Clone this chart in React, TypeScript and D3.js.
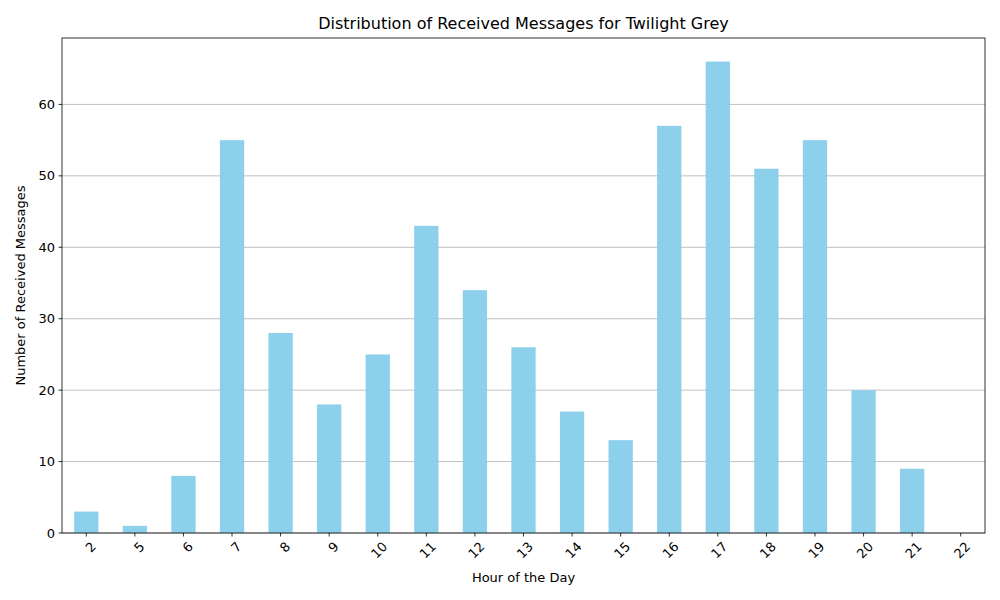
import React from "react";
import * as d3 from "d3";

const hours = ["2","5","6","7","8","9","10","11","12","13","14","15","16","17","18","19","20","21","22"];
const counts = [3,1,8,55,28,18,25,43,34,26,17,13,57,66,51,55,20,9,0];
const yTicks = [0,10,20,30,40,50,60];

export default function App() {
  const W = 1000, H = 600;
  const L = 62, R = 985, T = 38, B = 533;
  const x = d3.scaleBand().domain(hours).range([L, R]).paddingInner(0.5).paddingOuter(0.25);
  const y = d3.scaleLinear().domain([0, 66 * 1.05]).range([B, T]);
  const font = "DejaVu Sans, sans-serif";
  return (
    <svg width={W} height={H} style={{ position: "absolute", left: 0, top: 0 }} fontFamily={font}>
      <rect width={W} height={H} fill="white" />
      {yTicks.map(t => (
        <g key={t}>
          <line x1={L} x2={R} y1={y(t)} y2={y(t)} stroke="#b0b0b0" strokeWidth={0.8} />
          <line x1={L - 3.5} x2={L} y1={y(t)} y2={y(t)} stroke="black" strokeWidth={0.8} />
          <text x={L - 7} y={y(t)} dy="0.35em" textAnchor="end" fontSize={13}>{t}</text>
        </g>
      ))}
      {hours.map((h, i) => (
        <g key={h}>
          <rect x={x(h)} width={x.bandwidth()} y={y(counts[i])} height={B - y(counts[i])} fill="#87CEEB" opacity={0.95} />
          <line x1={x(h)! + x.bandwidth() / 2} x2={x(h)! + x.bandwidth() / 2} y1={B} y2={B + 3.5} stroke="black" strokeWidth={0.8} />
          <text transform={`translate(${x(h)! + x.bandwidth() / 2 + 4},${B + 8}) rotate(-45)`} textAnchor="end" dy="0.7em" fontSize={13}>{h}</text>
        </g>
      ))}
      <rect x={L} y={T} width={R - L} height={B - T} fill="none" stroke="black" strokeWidth={0.8} />
      <text x={(L + R) / 2} y={29} textAnchor="middle" fontSize={16}>Distribution of Received Messages for Twilight Grey</text>
      <text x={(L + R) / 2} y={582} textAnchor="middle" fontSize={13}>Hour of the Day</text>
      <text transform={`translate(25,${(T + B) / 2}) rotate(-90)`} textAnchor="middle" fontSize={13}>Number of Received Messages</text>
    </svg>
  );
}
